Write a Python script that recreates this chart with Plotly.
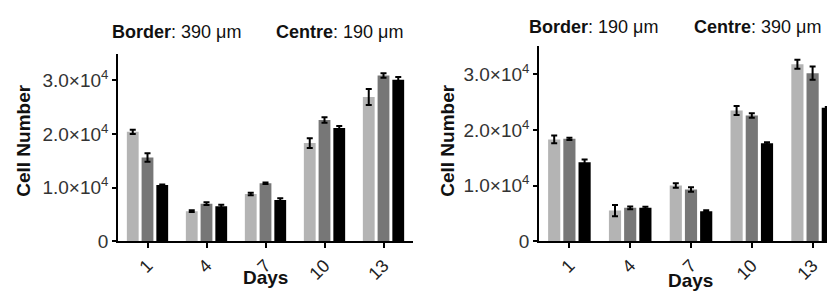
import plotly.graph_objects as go

days = ["1", "4", "7", "10", "13"]

# Left panel: Border 390 um, Centre 190 um
left_light = [20400, 5600, 8800, 18300, 26900]
left_light_err = [400, 150, 250, 900, 1500]
left_grey = [15600, 7000, 10800, 22600, 30900]
left_grey_err = [800, 250, 150, 500, 400]
left_black = [10500, 6500, 7700, 21100, 30100]
left_black_err = [80, 300, 300, 400, 500]

# Right panel: Border 190 um, Centre 390 um
right_light = [18300, 5500, 10000, 23500, 31800]
right_light_err = [700, 1000, 400, 800, 800]
right_grey = [18400, 6000, 9300, 22600, 30200]
right_grey_err = [200, 250, 400, 400, 1200]
right_black = [14200, 6000, 5400, 17600, 24000]
right_black_err = [500, 200, 150, 200, 100]

ytickvals = [0, 10000, 20000, 30000]
yticktext = ["0", "1.0×10<sup>4</sup>", "2.0×10<sup>4</sup>", "3.0×10<sup>4</sup>"]

colors = ["#b4b4b4", "#777777", "#000000"]
FONT = "Arial"

fig = go.Figure()

def add_group(vals, errs, xa, ya):
    for v, e, c in zip(vals, errs, colors):
        fig.add_trace(go.Bar(
            x=days, y=v, marker=dict(color=c, line=dict(width=0)),
            error_y=dict(type="data", array=e, color="black", thickness=2, width=3),
            xaxis=xa, yaxis=ya, showlegend=False))

add_group([left_light, left_grey, left_black], [left_light_err, left_grey_err, left_black_err], "x", "y")
add_group([right_light, right_grey, right_black], [right_light_err, right_grey_err, right_black_err], "x2", "y2")

W, H = 835, 292
xaxis_common = dict(type="category", showline=True, linecolor="black", linewidth=1.5,
                    ticks="outside", ticklen=5, tickcolor="black", tickwidth=1.5,
                    tickangle=-45, tickfont=dict(family=FONT, size=18, color="#222"),
                    showgrid=False, zeroline=False)
yaxis_common = dict(range=[0, 35000], showline=True, linecolor="black", linewidth=1.5,
                    ticks="outside", ticklen=4, tickcolor="black", tickwidth=1.5,
                    tickvals=ytickvals, ticktext=yticktext,
                    tickfont=dict(family=FONT, size=19, color="#333"),
                    showgrid=False, zeroline=False)

fig.update_layout(
    width=W, height=H, margin=dict(l=0, r=0, t=0, b=0),
    paper_bgcolor="white", plot_bgcolor="white",
    font=dict(family=FONT),
    barmode="group", bargap=0.25, bargroupgap=0.2,
    xaxis=dict(domain=[110 / W, 405 / W], anchor="y", **xaxis_common),
    yaxis=dict(domain=[(H - 242.3) / H, (H - 47.3) / H], anchor="x", **yaxis_common),
    xaxis2=dict(domain=[531 / W, 1.0], anchor="y2", **xaxis_common),
    yaxis2=dict(domain=[(H - 242.3) / H, (H - 40) / H], anchor="x2", **yaxis_common),
)

ann = []
def title(x, y, label, val):
    ann.append(dict(text=f"<b>{label}</b>: {val} μm", x=x / W, y=1 - y / H, xref="paper", yref="paper",
                    xanchor="left", yanchor="middle", showarrow=False,
                    font=dict(family=FONT, size=18, color="#111")))

title(102, 25, "Border", "390")
title(266, 25, "Centre", "190")
title(519, 20, "Border", "190")
title(684, 20, "Centre", "390")

for x, y in [(16, 138), (440, 138)]:
    ann.append(dict(text="<b>Cell Number</b>", x=x / W, y=1 - y / H, xref="paper", yref="paper",
                    xanchor="center", yanchor="middle", textangle=-90, showarrow=False,
                    font=dict(family=FONT, size=19, color="#111")))
for x, y in [(257, 280), (682, 283)]:
    ann.append(dict(text="<b>Days</b>", x=x / W, y=1 - y / H, xref="paper", yref="paper",
                    xanchor="center", yanchor="middle", showarrow=False,
                    font=dict(family=FONT, size=19, color="#111")))

fig.update_layout(annotations=ann)
fig.write_html("out.html")
